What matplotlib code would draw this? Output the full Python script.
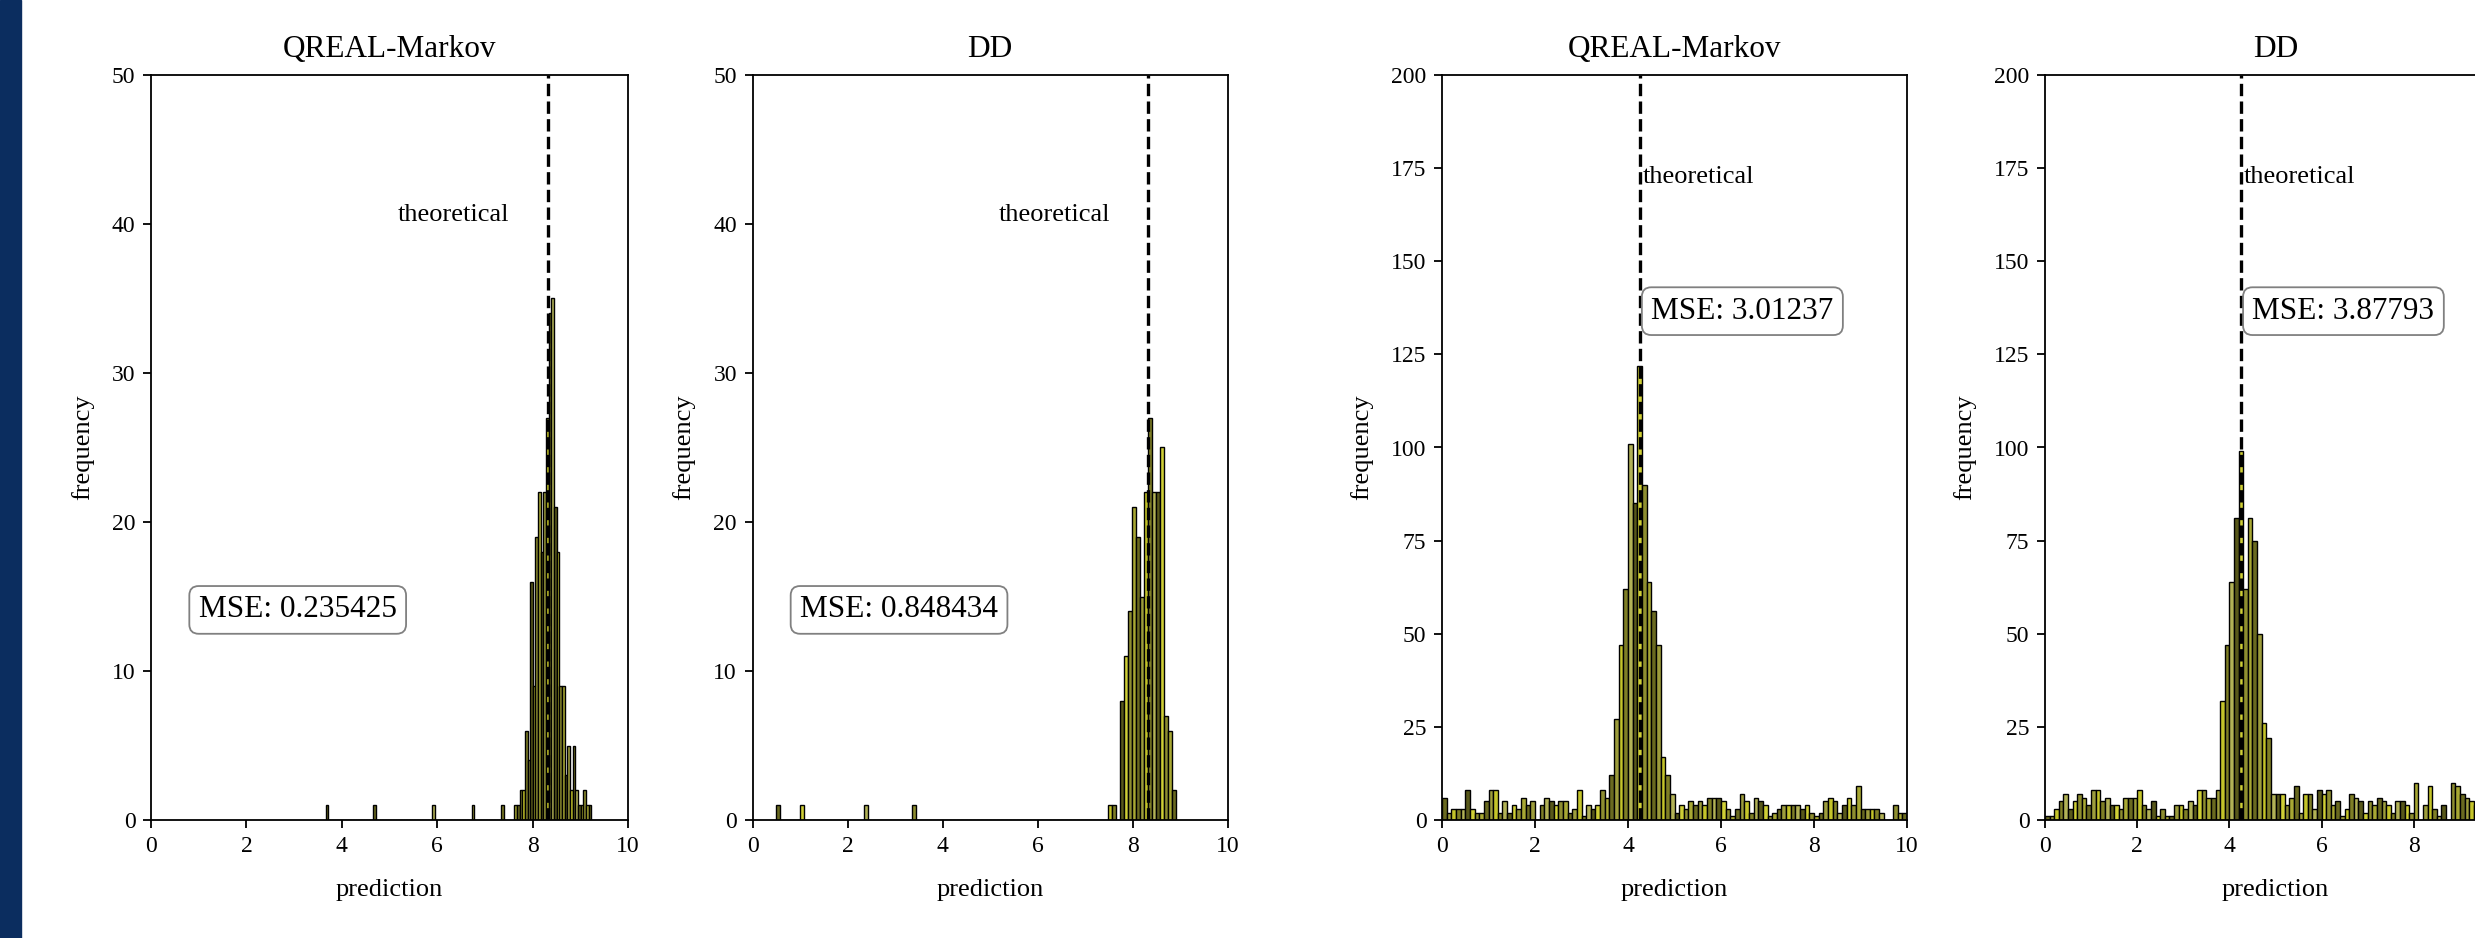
import matplotlib.pyplot as plt
import numpy as np

plt.rcParams['font.family'] = ['Liberation Serif', 'DejaVu Serif']

# left pair (QREAL-Markov / DD), histogram counts per bin
qm_left_lo, qm_left_w = 3.66, 0.0557
qm_left_counts = [
    1, 0, 0, 0, 0, 0, 0, 0, 0, 0,
    0, 0, 0, 0, 0, 0, 0, 0, 1, 0,
    0, 0, 0, 0, 0, 0, 0, 0, 0, 0,
    0, 0, 0, 0, 0, 0, 0, 0, 0, 0,
    1, 0, 0, 0, 0, 0, 0, 0, 0, 0,
    0, 0, 0, 0, 0, 1, 0, 0, 0, 0,
    0, 0, 0, 0, 0, 0, 1, 0, 0, 0,
    0, 1, 1, 2, 2, 6, 4, 16, 9, 19,
    22, 18, 22, 27, 34, 35, 21, 18, 9, 9,
    3, 5, 2, 5, 2, 1, 1, 2, 1, 1]

dd_left_lo, dd_left_w = 0.50, 0.084
dd_left_counts = [
    1, 0, 0, 0, 0, 0, 1, 0, 0, 0,
    0, 0, 0, 0, 0, 0, 0, 0, 0, 0,
    0, 0, 1, 0, 0, 0, 0, 0, 0, 0,
    0, 0, 0, 0, 1, 0, 0, 0, 0, 0,
    0, 0, 0, 0, 0, 0, 0, 0, 0, 0,
    0, 0, 0, 0, 0, 0, 0, 0, 0, 0,
    0, 0, 0, 0, 0, 0, 0, 0, 0, 0,
    0, 0, 0, 0, 0, 0, 0, 0, 0, 0,
    0, 0, 0, 1, 1, 0, 8, 11, 14, 21,
    19, 15, 22, 27, 22, 22, 25, 7, 6, 2]

# right pair, bins of 0.1 from 0 to 10
qm_right_lo, qm_right_w = 0.0, 0.1
qm_right_counts = [
    6, 2, 3, 3, 3, 8, 3, 2, 2, 5,
    8, 8, 2, 5, 2, 4, 3, 6, 4, 5,
    0, 4, 6, 5, 4, 5, 5, 2, 3, 8,
    1, 4, 3, 4, 8, 6, 12, 27, 47, 62,
    101, 85, 122, 90, 64, 56, 47, 17, 12, 7,
    2, 4, 3, 5, 4, 5, 4, 6, 6, 6,
    5, 3, 1, 3, 7, 5, 2, 6, 5, 4,
    1, 2, 3, 4, 4, 4, 4, 3, 4, 2,
    1, 2, 5, 6, 5, 2, 4, 6, 4, 9,
    3, 3, 3, 3, 2, 0, 0, 4, 2, 2]

dd_right_lo, dd_right_w = 0.0, 0.1
dd_right_counts = [
    1, 1, 3, 5, 7, 3, 5, 7, 6, 4,
    8, 8, 5, 6, 4, 4, 3, 6, 6, 6,
    8, 4, 3, 5, 1, 3, 1, 1, 4, 4,
    3, 5, 4, 8, 8, 6, 6, 8, 32, 47,
    64, 81, 99, 62, 81, 75, 50, 26, 22, 7,
    7, 7, 4, 6, 9, 2, 7, 7, 3, 8,
    7, 8, 4, 5, 1, 3, 7, 6, 5, 2,
    5, 4, 6, 5, 4, 2, 5, 5, 4, 2,
    10, 0, 4, 9, 3, 1, 4, 0, 10, 9,
    7, 6, 5, 4, 3, 5, 2, 6, 3, 4]

titles = ['QREAL-Markov', 'DD', 'QREAL-Markov', 'DD']
mse_text = ['MSE: 0.235425', 'MSE: 0.848434', 'MSE: 3.01237', 'MSE: 3.87793']
theo = [8.32, 8.32, 4.26, 4.26]

shades = ['#6a6a20', '#9d9d3c', '#c4c42a', '#7f7f26', '#b2b256',
          '#58581a', '#cfcf36', '#8e8e30', '#a8a834']

W, H = 2475, 938
fig = plt.figure(figsize=(W / 100, H / 100), dpi=100)
fig.patches.append(plt.Rectangle((0, 0), 21 / W, 1, transform=fig.transFigure,
                                 color='#0b2d5f', zorder=-1))

# axes boxes in pixels: left, right
boxes = [(151, 628), (752.5, 1228), (1442, 1907), (2045, 2506)]
top, bottom = 75, 820

data = [(qm_left_lo, qm_left_w, qm_left_counts),
        (dd_left_lo, dd_left_w, dd_left_counts),
        (qm_right_lo, qm_right_w, qm_right_counts),
        (dd_right_lo, dd_right_w, dd_right_counts)]

for i, ((l, r), (lo, w, cnt)) in enumerate(zip(boxes, data)):
    ax = fig.add_axes([l / W, (H - bottom) / H, (r - l) / W, (bottom - top) / H])
    cnt = np.array(cnt)
    edges = lo + w * np.arange(len(cnt))
    cols = [shades[k % len(shades)] for k in range(len(cnt))]
    ax.bar(edges, cnt, width=w, align='edge', color=cols,
           edgecolor='black', linewidth=1.0)
    ax.axvline(theo[i], color='black', linestyle='--', linewidth=2.4, zorder=3)
    ax.set_xlim(0, 10)
    # the last panel runs past the right edge, its "10" is not in the picture
    ax.set_xticks([0, 2, 4, 6, 8, 10] if i < 3 else [0, 2, 4, 6, 8])
    if i < 2:
        ax.set_ylim(0, 50)
        ax.set_yticks([0, 10, 20, 30, 40, 50])
        ax.text(5.18, 40.6, 'theoretical', fontsize=19, va='center')
        ax.text(1.0, 14.1, mse_text[i], fontsize=22.5, va='center',
                bbox=dict(boxstyle='round', fc='white', ec='#808080', lw=1.3))
    else:
        ax.set_ylim(0, 200)
        ax.set_yticks([0, 25, 50, 75, 100, 125, 150, 175, 200])
        ax.text(theo[i] + 0.05, 172.5, 'theoretical', fontsize=19, va='center')
        ax.text(theo[i] + 0.24, 136.6, mse_text[i], fontsize=22.5, va='center',
                bbox=dict(boxstyle='round', fc='white', ec='#808080', lw=1.3))
    ax.set_title(titles[i], fontsize=22.5, pad=13)
    ax.set_xlabel('prediction', fontsize=19, labelpad=16)
    ax.set_ylabel('frequency', fontsize=19, labelpad=13)
    ax.tick_params(labelsize=17, length=5.6, width=1.3, pad=5.6)
    for s in ax.spines.values():
        s.set_linewidth(1.3)

fig.savefig('out.png', dpi=100)
